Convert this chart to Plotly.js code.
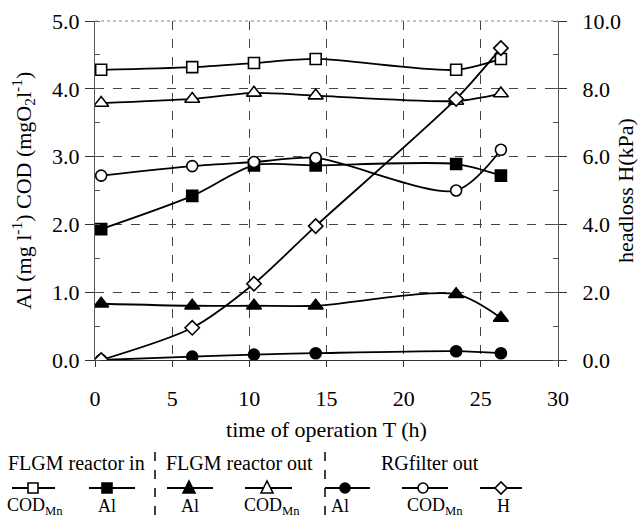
<!DOCTYPE html>
<html>
<head>
<meta charset="utf-8">
<script src="https://cdn.plot.ly/plotly-3.0.1.min.js"></script>
<style>html,body{margin:0;padding:0;background:#fff;}#chart{width:638px;height:520px;}</style>
</head>
<body>
<div id="chart"></div>
<script>
// time of operation T (h)
const timeH = [0.4, 6.3, 10.3, 14.3, 23.4, 26.3];
// FLGM reactor in
const codIn = [4.28, 4.32, 4.38, 4.44, 4.28, 4.44];
const alIn = [1.93, 2.42, 2.87, 2.87, 2.89, 2.72];
// FLGM reactor out
const alOut = [0.83, 0.80, 0.80, 0.80, 0.97, 0.62];
const codOut = [3.79, 3.85, 3.94, 3.90, 3.82, 3.93];
// RG filter out
const alRG = [0.00, 0.05, 0.08, 0.10, 0.13, 0.10];
const codRG = [2.72, 2.86, 2.92, 2.98, 2.50, 3.10];
const headloss = [0.00, 0.95, 2.25, 3.95, 7.70, 9.20];

const xTicks = [0, 5, 10, 15, 20, 25, 30];
const yTicks = [0, 1, 2, 3, 4, 5];
const y2Ticks = [0, 2, 4, 6, 8, 10];

const FONT = "'Liberation Serif', 'DejaVu Serif', serif";

function series(y, symbol, fill, yaxis) {
  return {
    x: timeH, y: y, type: 'scatter', mode: 'lines+markers',
    yaxis: yaxis || 'y',
    line: {color: '#000', width: 1.8, shape: 'spline', smoothing: 0.8},
    marker: {symbol: symbol, size: symbol.indexOf('triangle') === 0 ? 13 : 11,
             color: fill, line: {color: '#000', width: 1.6}},
    showlegend: false, hoverinfo: 'skip'
  };
}

const traces = [
  series(codIn, 'square', '#fff'),
  series(alIn, 'square', '#000'),
  series(alOut, 'triangle-up', '#000'),
  series(codOut, 'triangle-up', '#fff'),
  series(alRG, 'circle', '#000'),
  series(codRG, 'circle', '#fff'),
  series(headloss, 'diamond', '#fff', 'y2')
];

// plot box in pixels
const L = 95, R = 558, T = 21, B = 360;
const px = x => (x - L) / (R - L);
const py = y => (B - y) / (B - T);

const shapes = [];
const annotations = [];
// top border dotted
shapes.push({type:'line', xref:'paper', yref:'paper', x0:0, x1:1, y0:1, y1:1,
  line:{color:'#888', width:1, dash:'dot'}});

// legend
const legY = 488;
const items = [
  {x0:12, x1:55, m:33, sym:'square', fill:'#fff', lab:'COD<sub>Mn</sub>', lx:35},
  {x0:89, x1:135, m:107, sym:'square', fill:'#000', lab:'Al', lx:107},
  {x0:167, x1:213, m:189, sym:'tri', fill:'#000', lab:'Al', lx:190},
  {x0:245, x1:292, m:267, sym:'tri', fill:'#fff', lab:'COD<sub>Mn</sub>', lx:272},
  {x0:325, x1:370, m:345, sym:'circle', fill:'#000', lab:'Al', lx:340},
  {x0:402, x1:448, m:423, sym:'circle', fill:'#fff', lab:'COD<sub>Mn</sub>', lx:435},
  {x0:480, x1:522, m:501, sym:'diamond', fill:'#fff', lab:'H', lx:503}
];
items.forEach(it => {
  shapes.push({type:'line', xref:'paper', yref:'paper', x0:px(it.x0), x1:px(it.x1),
    y0:py(legY), y1:py(legY), line:{color:'#000', width:1.8}});
  const s = 5;
  const ln = {color:'#000', width:1.6};
  if (it.sym === 'square') {
    shapes.push({type:'rect', xref:'paper', yref:'paper', x0:px(it.m-s), x1:px(it.m+s),
      y0:py(legY+s), y1:py(legY-s), fillcolor:it.fill, line:ln});
  } else if (it.sym === 'circle') {
    shapes.push({type:'circle', xref:'paper', yref:'paper', x0:px(it.m-s), x1:px(it.m+s),
      y0:py(legY+s), y1:py(legY-s), fillcolor:it.fill, line:ln});
  } else if (it.sym === 'tri') {
    const p = `M ${px(it.m-6)} ${py(legY+5)} L ${px(it.m+6)} ${py(legY+5)} L ${px(it.m)} ${py(legY-7)} Z`;
    shapes.push({type:'path', xref:'paper', yref:'paper', path:p, fillcolor:it.fill, line:ln});
  } else {
    const p = `M ${px(it.m-6)} ${py(legY)} L ${px(it.m)} ${py(legY-6)} L ${px(it.m+6)} ${py(legY)} L ${px(it.m)} ${py(legY+6)} Z`;
    shapes.push({type:'path', xref:'paper', yref:'paper', path:p, fillcolor:it.fill, line:ln});
  }
  annotations.push({xref:'paper', yref:'paper', x:px(it.lx), y:py(506), text:it.lab,
    showarrow:false, font:{family:FONT, size:18, color:'#000'}, xanchor:'center', yanchor:'middle'});
});
// separators
[155, 325].forEach(x => shapes.push({type:'line', xref:'paper', yref:'paper',
  x0:px(x), x1:px(x), y0:py(452), y1:py(520), line:{color:'#000', width:1.5, dash:'dash'}}));
// headers
[['FLGM reactor in', 76], ['FLGM reactor out', 239], ['RGfilter out', 430]].forEach(h =>
  annotations.push({xref:'paper', yref:'paper', x:px(h[1]), y:py(463), text:h[0], showarrow:false,
    font:{family:FONT, size:20, color:'#000'}, xanchor:'center', yanchor:'middle'}));

const layout = {
  width: 638, height: 520,
  margin: {l: L, r: 638 - R, t: T, b: 520 - B, pad: 0},
  paper_bgcolor: '#fff', plot_bgcolor: '#fff',
  font: {family: FONT, color: '#000', size: 21},
  showlegend: false,
  xaxis: {
    range: [0, 30], tickvals: xTicks, ticktext: xTicks.map(String),
    showline: true, linecolor: '#333', linewidth: 1.2,
    ticks: 'outside', ticklen: 6, tickcolor: '#333', ticklabelstandoff: 12,
    showgrid: true, gridcolor: '#444', griddash: 'dash', gridwidth: 1,
    zeroline: false, tickfont: {family: FONT, size: 22},
    title: {text: 'time of operation T (h)', font: {family: FONT, size: 22}, standoff: 12}
  },
  yaxis: {
    range: [0, 5], tickvals: yTicks, tickformat: '.1f',
    showline: true, linecolor: '#555', linewidth: 1.2,
    ticks: 'outside', ticklen: 9, tickcolor: '#333', ticklabelstandoff: 1,
    minor: {ticks: 'inside', dtick: 0.5, ticklen: 5, tickcolor: '#555', showgrid: false},
    showgrid: true, gridcolor: '#444', griddash: 'dash', gridwidth: 1,
    zeroline: false, tickfont: {family: FONT, size: 22},
    title: {text: 'Al (mg l<sup>-1</sup>) COD (mgO<sub>2</sub>l<sup>-1</sup>)', font: {family: FONT, size: 22}, standoff: 14}
  },
  yaxis2: {
    range: [0, 10], tickvals: y2Ticks, tickformat: '.1f',
    overlaying: 'y', side: 'right',
    showline: true, linecolor: '#555', linewidth: 1.2,
    ticks: 'outside', ticklen: 8, tickcolor: '#333', ticklabelstandoff: 11,
    minor: {ticks: 'inside', dtick: 1, ticklen: 5, tickcolor: '#555', showgrid: false},
    showgrid: false, zeroline: false, tickfont: {family: FONT, size: 22},
    title: {text: 'headloss H(kPa)', font: {family: FONT, size: 22}, standoff: 20}
  },
  shapes: shapes,
  annotations: annotations
};

Plotly.newPlot('chart', traces, layout, {staticPlot: true, displayModeBar: false});
</script>
</body>
</html>
